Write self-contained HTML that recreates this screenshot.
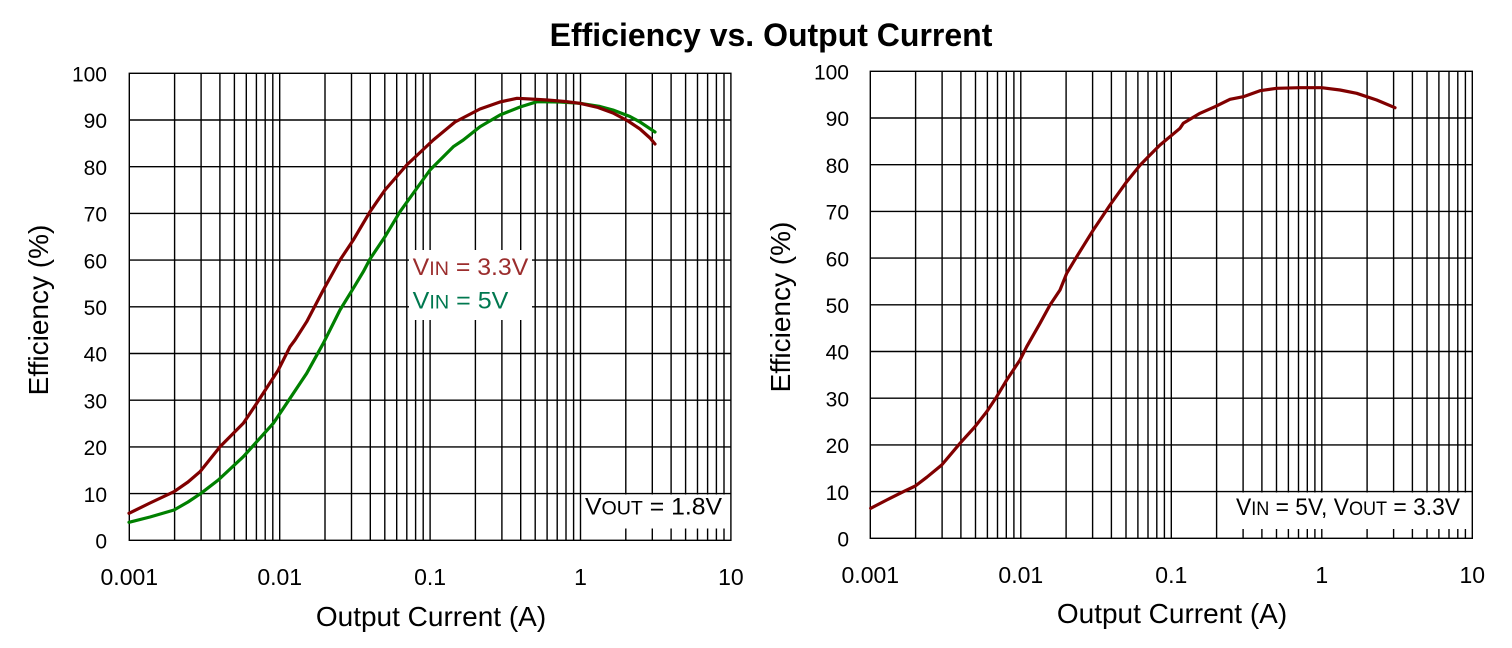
<!DOCTYPE html>
<html>
<head>
<meta charset="utf-8">
<style>
html,body{margin:0;padding:0;background:#fff;}
svg{display:block;}
text{font-family:"Liberation Sans",Arial,sans-serif;fill:#000;}
</style>
</head>
<body>
<svg width="1512" height="648" viewBox="0 0 1512 648" xmlns="http://www.w3.org/2000/svg">
<rect x="0" y="0" width="1512" height="648" fill="#fff"/>

<!-- Title -->
<text x="771" y="46" font-size="32" font-weight="bold" text-anchor="middle">Efficiency vs. Output Current</text>

<!-- ============ LEFT CHART ============ -->
<g stroke="#000" stroke-width="1.4" fill="none">
  <!-- horizontal grid -->
  <path d="M129.3 493.6H730.9 M129.3 446.9H730.9 M129.3 400.2H730.9 M129.3 353.5H730.9 M129.3 306.8H730.9 M129.3 260.1H730.9 M129.3 213.4H730.9 M129.3 166.7H730.9 M129.3 120H730.9"/>
  <!-- vertical grid -->
  <path d="M174.6 73.3V540.3 M201.1 73.3V540.3 M219.9 73.3V540.3 M234.4 73.3V540.3 M246.3 73.3V540.3 M256.4 73.3V540.3 M265.2 73.3V540.3 M272.8 73.3V540.3
           M279.7 73.3V540.3
           M325 73.3V540.3 M351.5 73.3V540.3 M370.3 73.3V540.3 M384.8 73.3V540.3 M396.7 73.3V540.3 M406.8 73.3V540.3 M415.6 73.3V540.3 M423.2 73.3V540.3
           M430.1 73.3V540.3
           M475.4 73.3V540.3 M501.9 73.3V540.3 M520.7 73.3V540.3 M535.2 73.3V540.3 M547.1 73.3V540.3 M557.2 73.3V540.3 M566 73.3V540.3 M573.6 73.3V540.3
           M580.5 73.3V540.3
           M625.8 73.3V540.3 M652.3 73.3V540.3 M671.1 73.3V540.3 M685.6 73.3V540.3 M697.5 73.3V540.3 M707.6 73.3V540.3 M716.4 73.3V540.3 M724 73.3V540.3"/>
</g>
<!-- label boxes -->
<rect x="409" y="250" width="123" height="70" fill="#fff"/>
<rect x="581.8" y="494.5" width="148" height="34" fill="#fff"/>
<!-- border -->
<rect x="129.3" y="73.3" width="601.6" height="467" fill="none" stroke="#000" stroke-width="1.4"/>

<!-- curves -->
<polyline fill="none" stroke="#008000" stroke-width="3.2" stroke-linejoin="round" stroke-linecap="round"
 points="129,522.3 150,517 174,510 188,502 201,493.3 218.3,480 243.3,456.7 273.3,423.3 286.7,403.3 306.7,373.3 323.3,343.3 340,310 353.3,288.3 363.3,271.7 370,259 385,236.7 400,211.7 430,170 453.3,146.7 463.3,140 480,126.7 500,115 520,107 537,101.7 560,102 580,103.3 600,106.5 613,110 630,116.5 640,122 655,132"/>
<polyline fill="none" stroke="#800000" stroke-width="3.2" stroke-linejoin="round" stroke-linecap="round"
 points="129,513.3 150,503 174,491.7 188,482 200,471.7 220,446.7 243.3,423.3 256.7,403.3 278.3,370 290,346.7 295,340 306.7,321.7 323.3,290 340,260 353.3,240 370,211.7 385,190 406.7,165 433.3,140 455,122 480,109 500,102 517,98.3 530,99 547,100 565,101.5 580,103.3 598,107.5 613,113 628,121 640,129 650,138 655,144"/>

<!-- legend -->
<text x="412.7" y="275" font-size="24" textLength="115.6" lengthAdjust="spacingAndGlyphs" style="fill:#9b2d2d">V<tspan font-size="19">IN</tspan> = 3.3V</text>
<text x="412.7" y="308.3" font-size="24" textLength="95.6" lengthAdjust="spacingAndGlyphs" style="fill:#00784f">V<tspan font-size="19">IN</tspan> = 5V</text>
<text x="585" y="514.3" font-size="24" textLength="137" lengthAdjust="spacingAndGlyphs">V<tspan font-size="19">OUT</tspan> =  1.8V</text>

<!-- y tick labels -->
<g font-size="21" text-anchor="end">
<text x="107" y="81.5">100</text>
<text x="107" y="128.2">90</text>
<text x="107" y="174.9">80</text>
<text x="107" y="221.6">70</text>
<text x="107" y="268.3">60</text>
<text x="107" y="315">50</text>
<text x="107" y="361.7">40</text>
<text x="107" y="408.4">30</text>
<text x="107" y="455.1">20</text>
<text x="107" y="501.8">10</text>
<text x="107" y="548.5">0</text>
</g>
<!-- x tick labels -->
<g font-size="23" text-anchor="middle">
<text x="129.3" y="585">0.001</text>
<text x="279.7" y="585">0.01</text>
<text x="430.1" y="585">0.1</text>
<text x="580.5" y="585">1</text>
<text x="730.9" y="585">10</text>
</g>
<text x="431" y="626" font-size="28" text-anchor="middle">Output Current (A)</text>
<text transform="translate(48,310) rotate(-90)" font-size="28" text-anchor="middle">Efficiency (%)</text>

<!-- ============ RIGHT CHART ============ -->
<g stroke="#000" stroke-width="1.4" fill="none">
  <path d="M870.3 491.6H1472.3 M870.3 444.9H1472.3 M870.3 398.2H1472.3 M870.3 351.5H1472.3 M870.3 304.8H1472.3 M870.3 258.1H1472.3 M870.3 211.4H1472.3 M870.3 164.7H1472.3 M870.3 118H1472.3"/>
  <path d="M915.6 71.3V538.3 M942.1 71.3V538.3 M960.9 71.3V538.3 M975.5 71.3V538.3 M987.4 71.3V538.3 M997.5 71.3V538.3 M1006.3 71.3V538.3 M1013.9 71.3V538.3
           M1020.8 71.3V538.3
           M1066.1 71.3V538.3 M1092.6 71.3V538.3 M1111.4 71.3V538.3 M1126 71.3V538.3 M1137.9 71.3V538.3 M1148 71.3V538.3 M1156.8 71.3V538.3 M1164.4 71.3V538.3
           M1171.3 71.3V538.3
           M1216.6 71.3V538.3 M1243.1 71.3V538.3 M1261.9 71.3V538.3 M1276.5 71.3V538.3 M1288.4 71.3V538.3 M1298.5 71.3V538.3 M1307.3 71.3V538.3 M1314.9 71.3V538.3
           M1321.8 71.3V538.3
           M1367.1 71.3V538.3 M1393.6 71.3V538.3 M1412.4 71.3V538.3 M1427 71.3V538.3 M1438.9 71.3V538.3 M1449 71.3V538.3 M1457.8 71.3V538.3 M1465.4 71.3V538.3"/>
</g>
<rect x="1230" y="492.5" width="241.5" height="36.5" fill="#fff"/>
<rect x="870.3" y="71.3" width="602" height="467" fill="none" stroke="#000" stroke-width="1.4"/>

<polyline fill="none" stroke="#800000" stroke-width="3.2" stroke-linejoin="round" stroke-linecap="round"
 points="870.7,508.3 886.7,500 903.3,491.7 915.3,486 926.7,477.3 941.7,465 960,443.3 975,426.7 986.7,411.7 996.7,396.7 1006.7,380 1020,360 1026.7,346.7 1040,323.3 1050,305 1060,290 1066.7,273.3 1076.7,256.7 1085,243.3 1093.3,230 1100,220 1110,205 1126.7,181.7 1140,165.3 1150,155 1160,145 1180,128.3 1183.3,123.3 1200,113.3 1215,106.7 1230,99.3 1243.3,96.7 1260,90.7 1276.7,88.3 1300,87.7 1321.7,87.7 1340,90 1356.7,93.3 1376.7,100 1395,107.7"/>

<text x="1236" y="515" font-size="24" textLength="224" lengthAdjust="spacingAndGlyphs">V<tspan font-size="19">IN</tspan> = 5V, V<tspan font-size="19">OUT</tspan> = 3.3V</text>

<g font-size="21" text-anchor="end">
<text x="849" y="79.5">100</text>
<text x="849" y="126.2">90</text>
<text x="849" y="172.9">80</text>
<text x="849" y="219.6">70</text>
<text x="849" y="266.3">60</text>
<text x="849" y="313">50</text>
<text x="849" y="359.7">40</text>
<text x="849" y="406.4">30</text>
<text x="849" y="453.1">20</text>
<text x="849" y="499.8">10</text>
<text x="849" y="546.5">0</text>
</g>
<g font-size="23" text-anchor="middle">
<text x="870.3" y="583">0.001</text>
<text x="1020.8" y="583">0.01</text>
<text x="1171.3" y="583">0.1</text>
<text x="1321.8" y="583">1</text>
<text x="1472.3" y="583">10</text>
</g>
<text x="1172" y="623" font-size="28" text-anchor="middle">Output Current (A)</text>
<text transform="translate(790,307) rotate(-90)" font-size="28" text-anchor="middle">Efficiency (%)</text>
</svg>
</body>
</html>
